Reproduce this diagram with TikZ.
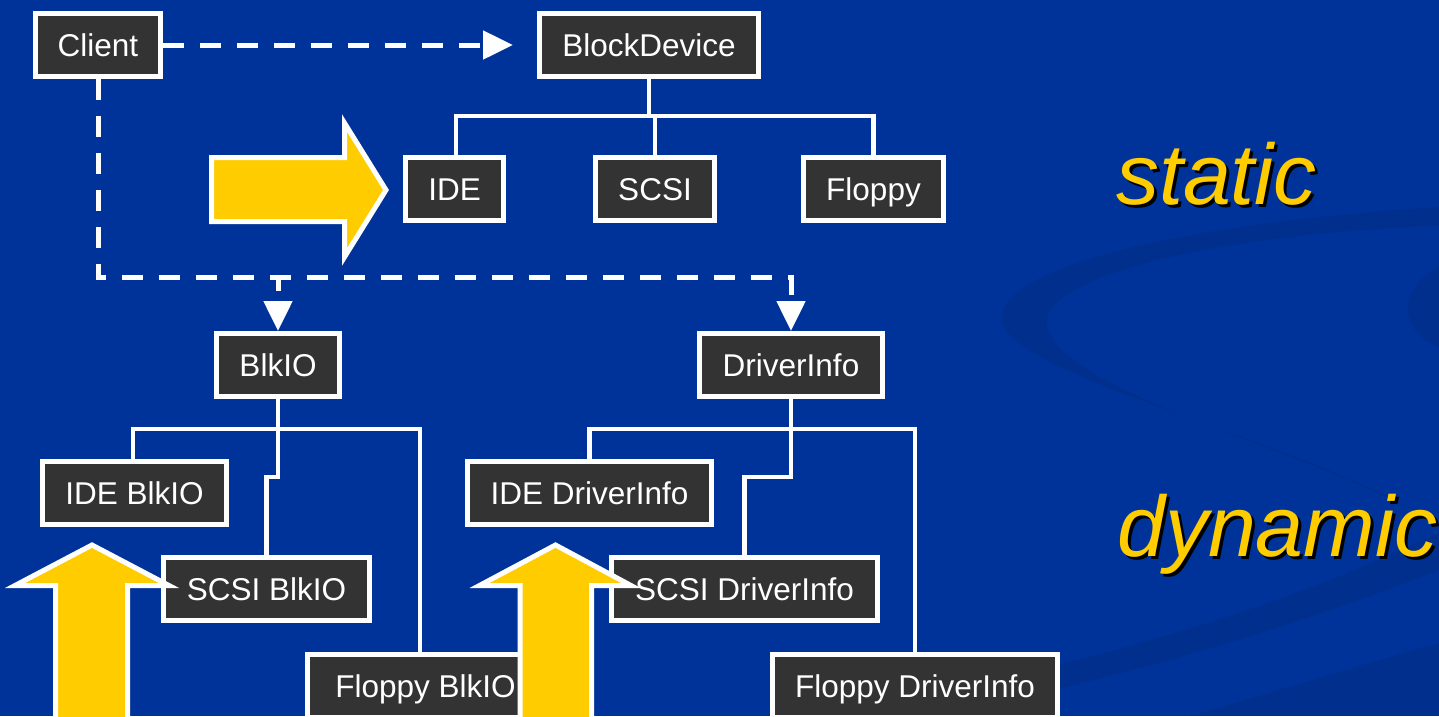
\documentclass[tikz,border=0pt]{standalone}
\usepackage{fontspec}
\setmainfont{Liberation Sans}
\usetikzlibrary{arrows.meta}
\definecolor{slideblue}{RGB}{0,51,153}
\definecolor{boxgray}{RGB}{51,51,51}
\definecolor{goldfill}{RGB}{255,204,0}
% word with a black drop shadow behind it
\newcommand{\shadowword}[1]{\makebox[0pt][l]{\hspace{3pt}\raisebox{-3pt}{\color{black}#1}}#1}
\begin{document}
\begin{tikzpicture}[x=1pt,y=-1pt,
  classbox/.style={draw=white, line width=5pt, fill=boxgray, text=white,
    font=\fontsize{31.5}{36}\selectfont, minimum height=63pt, inner sep=0pt,
    text height=22.6pt, text depth=0pt},
  tree/.style={draw=white, line width=4.5pt},
  dep/.style={draw=white, line width=5pt, dash pattern=on 21pt off 16pt,
    -{Triangle[length=30pt,width=28pt]}},
  bigarrow/.style={draw=white, line width=5pt, fill=goldfill, line join=miter},
  swirl/.style={fill=black, opacity=0.07},
  kind/.style={anchor=base west, inner sep=0pt, text=goldfill,
    font=\fontsize{86}{96}\selectfont\itshape}]

% background and its swirl
\useasboundingbox (0,0) rectangle (1439,716);
\fill[slideblue] (0,0) rectangle (1439,716);
\fill[swirl] (1439,207) .. controls (1150,225) and (985,275) .. (1003,325)
  .. controls (1025,380) and (1300,440) .. (1432,520)
  .. controls (1300,446) and (1060,392) .. (1047,325)
  .. controls (1040,280) and (1200,235) .. (1439,226) -- cycle;
\fill[swirl] (1439,267) .. controls (1400,285) and (1395,330) .. (1439,347) -- cycle;
\fill[swirl] (1439,532) .. controls (1300,600) and (1150,645) .. (960,688)
  -- (960,712) .. controls (1150,670) and (1300,625) .. (1439,570) -- cycle;
\fill[swirl] (1190,716) .. controls (1280,690) and (1360,665) .. (1439,643) -- (1439,716) -- cycle;

% static hierarchy
\node[classbox, minimum width=125pt] (client)   at (98,45)    {Client};
\node[classbox, minimum width=219pt] (blockdev) at (649,45)   {BlockDevice};
\node[classbox, minimum width=98pt]  (ide)      at (454.5,189) {IDE};
\node[classbox, minimum width=119pt] (scsi)     at (655,189)  {SCSI};
\node[classbox, minimum width=140pt] (floppy)   at (873.5,189) {Floppy};

% dynamic hierarchies
\node[classbox, minimum width=123pt] (blkio)    at (278,365)  {BlkIO};
\node[classbox, minimum width=183pt] (drvinfo)  at (791,365)  {DriverInfo};
\node[classbox, minimum width=184pt] (ideblk)   at (134.5,493) {IDE BlkIO};
\node[classbox, minimum width=206pt] (scsiblk)  at (266.5,589) {SCSI BlkIO};
\node[classbox, minimum width=236pt] (flopblk)  at (425.5,686) {Floppy BlkIO};
\node[classbox, minimum width=244pt] (idedrv)   at (589.5,493) {IDE DriverInfo};
\node[classbox, minimum width=266pt] (scsidrv)  at (744.5,589) {SCSI DriverInfo};
\node[classbox, minimum width=285pt] (flopdrv)  at (915,686)  {Floppy DriverInfo};

% inheritance trees
\coordinate (busS) at (649,116);
\draw[tree] (blockdev.south) -- (busS);
\draw[tree] ([xshift=1.5pt]ide.north) |- (busS) -| (floppy.north);
\draw[tree] (scsi.north) -- (scsi.north |- busS);

\coordinate (busB) at (278,429);
\coordinate (jogB) at (278,477);
\draw[tree] (blkio.south) -- (jogB) -| (scsiblk.north);
\draw[tree] ([xshift=-1.5pt]ideblk.north) |- (busB) -| ([xshift=-5.5pt]flopblk.north);

\coordinate (busD) at (791,429);
\coordinate (jogD) at (791,477);
\draw[tree] (drvinfo.south) -- (jogD) -| (scsidrv.north);
\draw[tree] (idedrv.north) |- (busD) -| (flopdrv.north);

% usage dependencies
\coordinate (useD) at (791,277);
\coordinate (useB) at (278,277);
\draw[dep] (client.east) -- ([xshift=-24pt]blockdev.west);
\draw[dep] (client.south) |- (useD) -- (drvinfo.north);
\draw[dep, dash phase=7pt] (useB) -- (blkio.north);

% big block arrows
\draw[bigarrow] (211.5,157.5) -- (344.5,157.5) -- (344.5,123) -- (386,190)
  -- (344.5,257) -- (344.5,221.5) -- (211.5,221.5) -- cycle;
\draw[bigarrow] (55.5,735) -- (55.5,585.5) -- (15,585.5) -- (92,545)
  -- (169,585.5) -- (127.5,585.5) -- (127.5,735) -- cycle;
\draw[bigarrow] (520,735) -- (520,585.5) -- (479.5,585.5) -- (555.5,545)
  -- (631,585.5) -- (591.5,585.5) -- (591.5,735) -- cycle;

% side labels
\node[kind] (static) at (1116,204) {\shadowword{static}};
\node[kind] (dynamic) at (1117,556) {\shadowword{dynamic}};
\end{tikzpicture}
\end{document}
